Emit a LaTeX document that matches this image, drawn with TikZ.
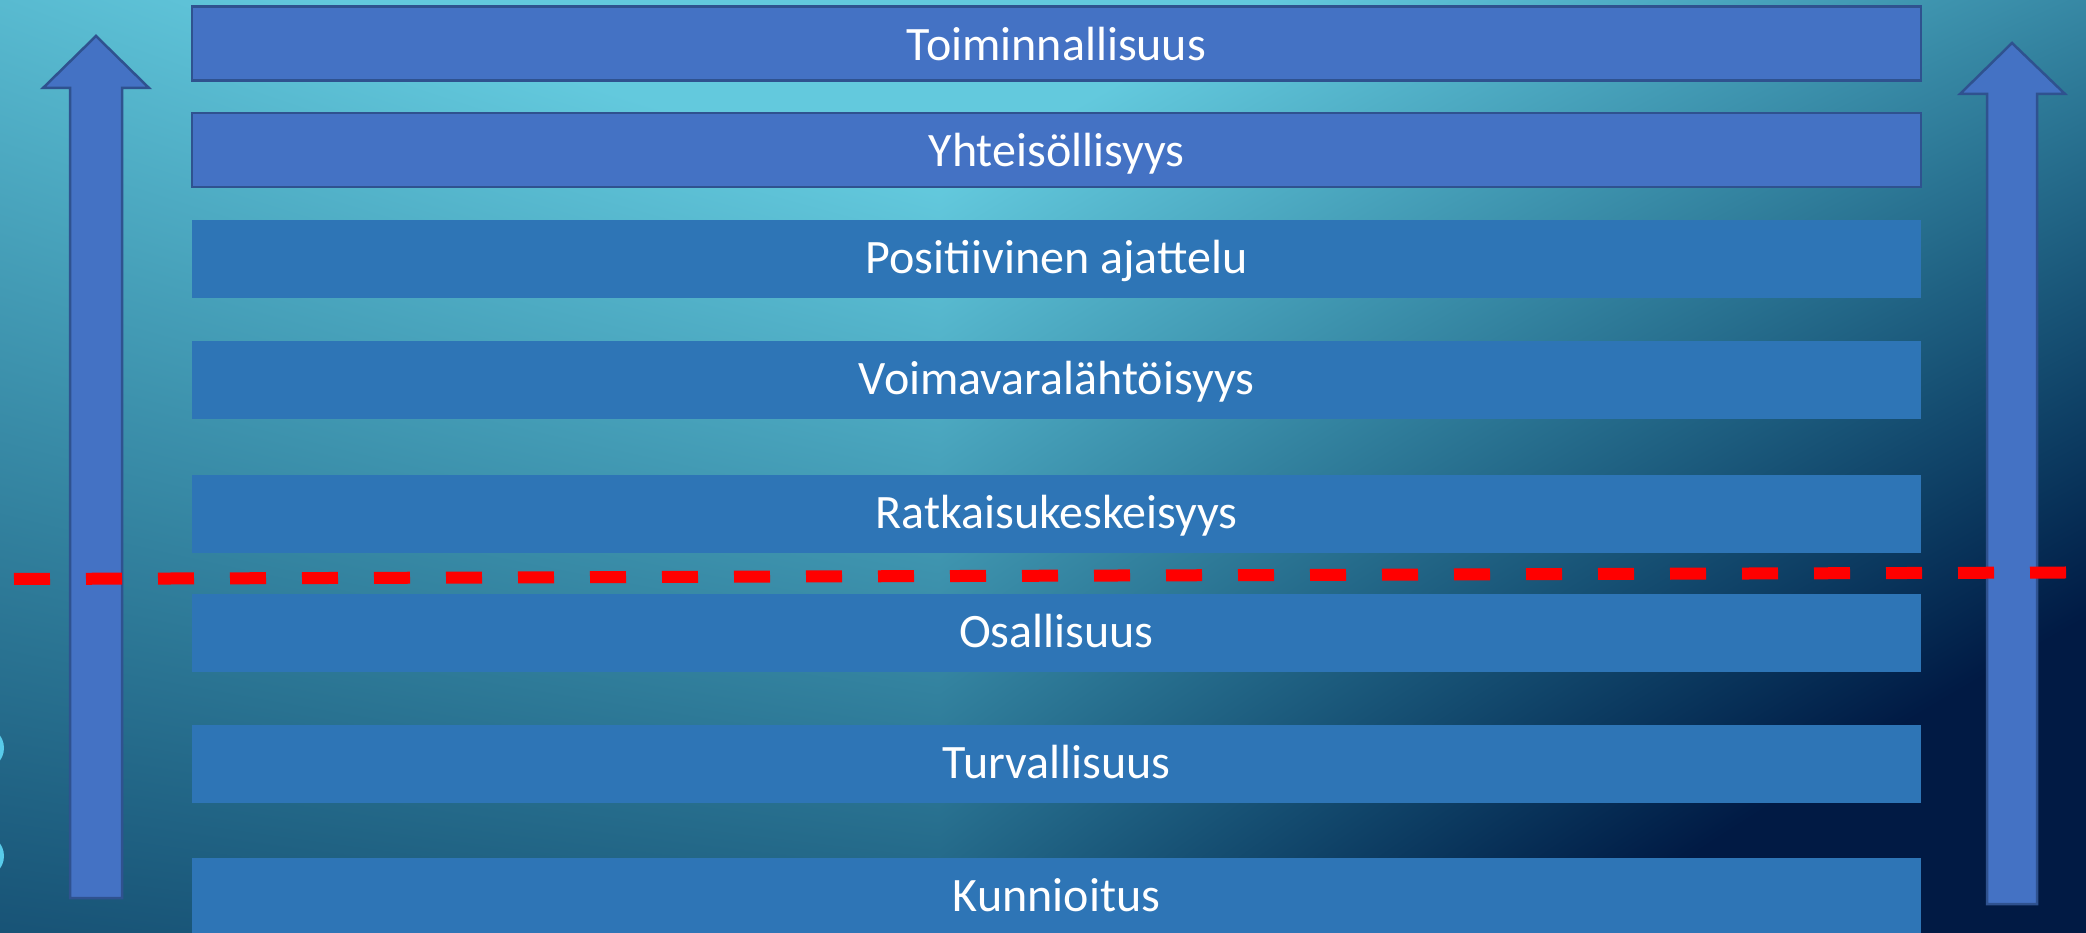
\documentclass[tikz,border=0pt]{standalone}
\usepackage{fontspec}
\setmainfont{Carlito}

% palette
\definecolor{accentfill}{HTML}{4472C4}
\definecolor{accentline}{HTML}{2F528F}
\definecolor{barfill}{HTML}{2E75B6}
\definecolor{cutred}{HTML}{FF0000}
\definecolor{dotcyan}{HTML}{58CBEA}

% background: light cyan glow near the top centre, sinking to navy
% towards the lower right; the filled box spans 25..75bp of the shading
\pgfdeclarefunctionalshading{seaglow}{\pgfpointorigin}{\pgfpoint{100bp}{100bp}}{}{
  50 div 1.3 exch sub
  exch 50 div 0.95 sub
  2 copy mul 0.36 mul
  3 1 roll
  dup abs 0.735 mul
  exch 0.285 mul add
  exch 0.75 mul add add
  1 exch sub
  dup abs add 2 div
  dup 1 sub abs neg add 1 add 2 div
  dup 1.3 exp 0.384 mul 0.004 add
  exch dup 0.686 mul 0.102 add
  exch 0.6 mul 0.267 add
}

\tikzset{
  tier/.style={rectangle, inner sep=0pt, minimum width=1729pt, minimum height=78pt,
    fill=barfill, text=white, font=\fontsize{48}{58}\selectfont,
    text height=40pt, text depth=10pt},
  toptier/.style={tier, fill=accentfill, draw=accentline, line width=2.5pt,
    minimum height=74pt, text height=44pt},
  uparrow/.style={fill=accentfill, draw=accentline, line width=2.5pt, line join=miter},
  cutline/.style={draw=cutred, line width=12pt, dash pattern=on 36pt off 36pt},
}

\begin{document}
\begin{tikzpicture}[x=1pt,y=1pt]
\useasboundingbox (0,0) rectangle (2086,932);

\begin{scope}
  \clip (0,0) rectangle (2086,932);
  \shade[shading=seaglow] (0,0) rectangle (2086,932);
  \fill[dotcyan] (-17.5,184) circle (21.5pt);
  \fill[dotcyan] (-17.5,76) circle (21.5pt);
\end{scope}

% rising arrows on both sides
\draw[uparrow] (96,896) -- (149,844) -- (122,844) -- (122,34) -- (70,34) -- (70,844) -- (43,844) -- cycle;
\draw[uparrow] (2012,889) -- (2065,838) -- (2037,838) -- (2037,28) -- (1987,28) -- (1987,838) -- (1960,838) -- cycle;

% the levels, top to bottom
\node[toptier] (toiminnallisuus) at (1056.5,888.5) {Toiminnallisuus};
\node[toptier] (yhteisollisyys) at (1056.5,782) {Yhteisöllisyys};
\node[tier] (positiivinen) at (1056.5,673) {Positiivinen ajattelu};
\node[tier] (voimavara) at (1056.5,552) {Voimavaralähtöisyys};
\node[tier] (ratkaisu) at (1056.5,418) {Ratkaisukeskeisyys};
\node[tier] (osallisuus) at (1056.5,299) {Osallisuus};
\node[tier] (turvallisuus) at (1056.5,168) {Turvallisuus};
\node[tier] (kunnioitus) at (1056.5,35) {Kunnioitus};

% dividing line
\coordinate (cutL) at (14,353);
\coordinate (cutR) at (2066,359.5);
\draw[cutline] (cutL) -- (cutR);
\end{tikzpicture}
\end{document}
